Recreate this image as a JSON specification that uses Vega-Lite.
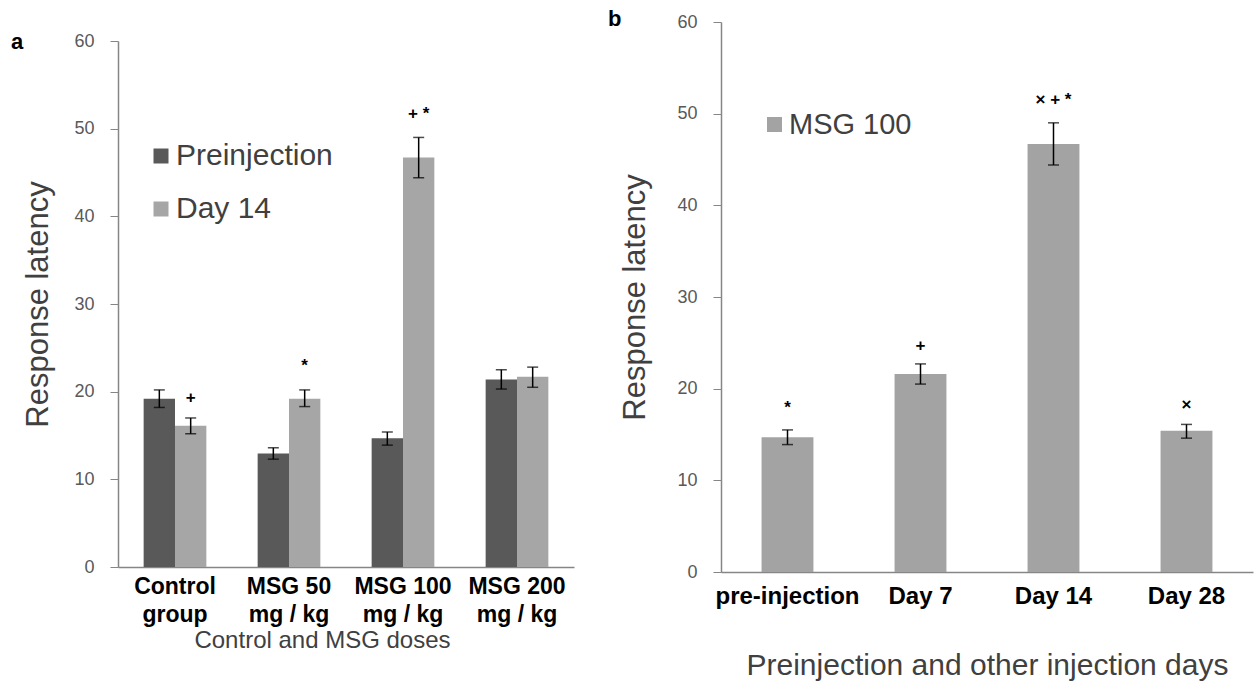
{
  "$schema": "https://vega.github.io/schema/vega-lite/v6.json",
  "background": "white",
  "padding": {"left": 10, "top": 8, "right": 5, "bottom": 5},
  "config": {"font": "Liberation Sans", "view": {"stroke": null}, "concat": {"spacing": 33}},
  "resolve": {"scale": {"color": "independent"}, "legend": {"color": "independent"}},
  "datasets": {
    "a": [
      {"group": "Control|group", "series": "Preinjection", "value": 19.2, "lo": 18.2, "hi": 20.2},
      {"group": "Control|group", "series": "Day 14", "value": 16.1, "lo": 15.2, "hi": 17.0},
      {"group": "MSG 50|mg / kg", "series": "Preinjection", "value": 12.95, "lo": 12.3, "hi": 13.6},
      {"group": "MSG 50|mg / kg", "series": "Day 14", "value": 19.2, "lo": 18.3, "hi": 20.2},
      {"group": "MSG 100|mg / kg", "series": "Preinjection", "value": 14.7, "lo": 13.9, "hi": 15.4},
      {"group": "MSG 100|mg / kg", "series": "Day 14", "value": 46.7, "lo": 44.4, "hi": 49.0},
      {"group": "MSG 200|mg / kg", "series": "Preinjection", "value": 21.4, "lo": 20.3, "hi": 22.5},
      {"group": "MSG 200|mg / kg", "series": "Day 14", "value": 21.7, "lo": 20.5, "hi": 22.8}
    ],
    "aNotes": [
      {"group": "Control|group", "series": "Day 14", "note": "+", "pos": 19.3},
      {"group": "MSG 50|mg / kg", "series": "Day 14", "note": "*", "pos": 22.9},
      {"group": "MSG 100|mg / kg", "series": "Day 14", "note": "+ *", "pos": 51.7}
    ],
    "b": [
      {"day": "pre-injection", "series": "MSG 100", "value": 14.7, "lo": 13.9, "hi": 15.5, "note": "*", "pos": 17.9},
      {"day": "Day 7", "series": "MSG 100", "value": 21.6, "lo": 20.5, "hi": 22.7, "note": "+", "pos": 24.7},
      {"day": "Day 14", "series": "MSG 100", "value": 46.7, "lo": 44.4, "hi": 49.0, "note": "× + *", "pos": 51.5},
      {"day": "Day 28", "series": "MSG 100", "value": 15.4, "lo": 14.6, "hi": 16.1, "note": "×", "pos": 18.2}
    ]
  },
  "hconcat": [
    {
      "width": 456,
      "height": 545,
      "title": {"text": "a", "anchor": "start", "frame": "bounds", "fontSize": 22, "fontWeight": "bold", "color": "black", "dx": -12, "dy": 32, "offset": 0},
      "data": {"name": "a"},
      "encoding": {
        "x": {
          "field": "group", "type": "nominal", "sort": null,
          "scale": {"domain": ["Control|group", "MSG 50|mg / kg", "MSG 100|mg / kg", "MSG 200|mg / kg"], "paddingInner": 0.45, "paddingOuter": 0.225},
          "axis": {
            "title": "Control and MSG doses", "titleFontSize": 24, "titleFontWeight": "normal", "titleColor": "#404040",
            "titleX": 204, "titleY": 73, "titleBaseline": "middle",
            "labelFontSize": 23, "labelFontWeight": "bold", "labelColor": "black", "labelAngle": 0,
            "labelExpr": "split(datum.label, '|')", "labelLineHeight": 28, "labelPadding": 8,
            "ticks": false, "domainColor": "#868686", "domainWidth": 1.5
          }
        },
        "xOffset": {"field": "series", "type": "nominal", "sort": null, "scale": {"domain": ["Preinjection", "Day 14"], "paddingInner": 0}}
      },
      "layer": [
        {
          "mark": {"type": "bar"},
          "encoding": {
            "y": {
              "field": "value", "type": "quantitative",
              "scale": {"domain": [0, 60], "range": [545, 19]},
              "axis": {
                "title": "Response latency", "titleFontSize": 31, "titleFontWeight": "normal", "titleColor": "#404040", "titlePadding": 19,
                "values": [0, 10, 20, 30, 40, 50, 60], "labelFontSize": 18, "labelColor": "#595959", "labelPadding": 16,
                "tickSize": 8, "tickColor": "#868686", "domainColor": "#868686", "domainWidth": 1.5, "grid": false
              }
            },
            "color": {
              "field": "series", "type": "nominal", "sort": null,
              "scale": {"domain": ["Preinjection", "Day 14"], "range": ["#595959", "#a6a6a6"]},
              "legend": {"title": null, "orient": "none", "legendX": 28, "legendY": 119, "symbolType": "square", "symbolSize": 225, "symbolStrokeWidth": 0, "labelFontSize": 30, "labelColor": "#404040", "rowPadding": 23, "labelOffset": 0, "padding": 0}
            }
          }
        },
        {
          "mark": {"type": "rule", "color": "black", "strokeWidth": 1.5},
          "encoding": {"y": {"field": "lo", "type": "quantitative", "title": "Response latency"}, "y2": {"field": "hi"}}
        },
        {
          "mark": {"type": "tick", "color": "black", "thickness": 1.5, "size": 11},
          "encoding": {"y": {"field": "lo", "type": "quantitative", "title": "Response latency"}}
        },
        {
          "mark": {"type": "tick", "color": "black", "thickness": 1.5, "size": 11},
          "encoding": {"y": {"field": "hi", "type": "quantitative", "title": "Response latency"}}
        },
        {
          "data": {"name": "aNotes"},
          "mark": {"type": "text", "fontSize": 17, "fontWeight": "bold", "color": "black", "baseline": "middle"},
          "encoding": {"y": {"field": "pos", "type": "quantitative", "title": "Response latency"}, "text": {"field": "note"}}
        }
      ]
    },
    {
      "width": 532,
      "height": 550,
      "title": {"text": "b", "anchor": "start", "frame": "bounds", "fontSize": 22, "fontWeight": "bold", "color": "black", "dx": -12, "dy": 18, "offset": 0},
      "data": {"name": "b"},
      "encoding": {
        "x": {
          "field": "day", "type": "nominal", "sort": null,
          "scale": {"domain": ["pre-injection", "Day 7", "Day 14", "Day 28"], "paddingInner": 0.61, "paddingOuter": 0.305},
          "axis": {
            "title": "Preinjection and other injection days", "titleFontSize": 30, "titleFontWeight": "normal", "titleColor": "#404040",
            "titleY": 93, "titleBaseline": "middle",
            "labelFontSize": 24, "labelFontWeight": "bold", "labelColor": "black", "labelAngle": 0, "labelPadding": 12,
            "ticks": false, "domainColor": "#868686", "domainWidth": 1.5
          }
        }
      },
      "layer": [
        {
          "mark": {"type": "bar"},
          "encoding": {
            "y": {
              "field": "value", "type": "quantitative",
              "scale": {"domain": [0, 60]},
              "axis": {
                "title": "Response latency", "titleFontSize": 31, "titleFontWeight": "normal", "titleColor": "#404040", "titlePadding": 25,
                "values": [0, 10, 20, 30, 40, 50, 60], "labelFontSize": 18, "labelColor": "#595959", "labelPadding": 16,
                "tickSize": 8, "tickColor": "#868686", "domainColor": "#868686", "domainWidth": 1.5, "grid": false
              }
            },
            "color": {
              "field": "series", "type": "nominal",
              "scale": {"domain": ["MSG 100"], "range": ["#a3a3a3"]},
              "legend": {"title": null, "orient": "none", "legendX": 39, "legendY": 88, "symbolType": "square", "symbolSize": 225, "symbolStrokeWidth": 0, "labelFontSize": 29, "labelColor": "#404040", "labelOffset": 0, "padding": 0}
            }
          }
        },
        {
          "mark": {"type": "rule", "color": "black", "strokeWidth": 1.5},
          "encoding": {"y": {"field": "lo", "type": "quantitative", "title": "Response latency"}, "y2": {"field": "hi"}}
        },
        {
          "mark": {"type": "tick", "color": "black", "thickness": 1.5, "size": 11},
          "encoding": {"y": {"field": "lo", "type": "quantitative", "title": "Response latency"}}
        },
        {
          "mark": {"type": "tick", "color": "black", "thickness": 1.5, "size": 11},
          "encoding": {"y": {"field": "hi", "type": "quantitative", "title": "Response latency"}}
        },
        {
          "mark": {"type": "text", "fontSize": 17, "fontWeight": "bold", "color": "black", "baseline": "middle"},
          "encoding": {"y": {"field": "pos", "type": "quantitative", "title": "Response latency"}, "text": {"field": "note"}}
        }
      ]
    }
  ]
}
